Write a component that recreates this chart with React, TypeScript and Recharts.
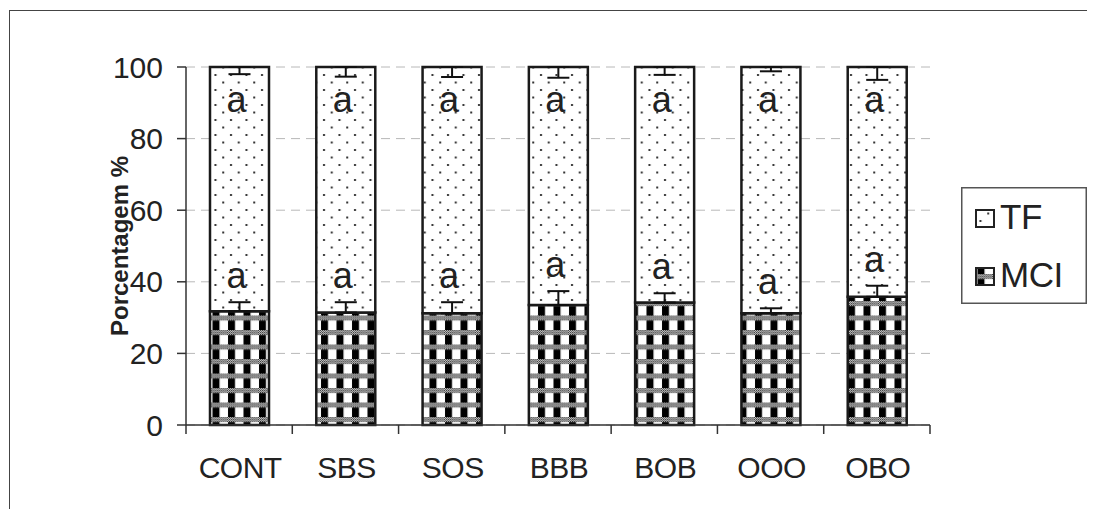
import React from "react";
import {
  BarChart,
  Bar,
  XAxis,
  YAxis,
  CartesianGrid,
  ErrorBar,
  LabelList,
  Legend,
  Label,
} from "recharts";

// treatments on the x axis
const groups = ["CONT", "SBS", "SOS", "BBB", "BOB", "OOO", "OBO"];
// share of each cell type, %
const mciValues = [31.8, 31.4, 31.2, 33.5, 34.2, 31.2, 35.8];
const tfValues = [68.2, 68.6, 68.8, 66.5, 65.8, 68.8, 64.2];
// one-sided errors: MCI goes up, TF goes down from the top
const mciErrors = [2.5, 2.9, 3.1, 3.9, 2.6, 1.4, 3.1];
const tfErrors = [2.0, 2.7, 2.8, 3.0, 2.2, 1.2, 3.6];
// significance letters
const mciLetters = ["a", "a", "a", "a", "a", "a", "a"];
const tfLetters = ["a", "a", "a", "a", "a", "a", "a"];
const yTicks = [0, 20, 40, 60, 80, 100];

const data = groups.map((group, i) => ({
  group,
  MCI: mciValues[i],
  TF: tfValues[i],
  mciErr: [0, mciErrors[i]],
  tfErr: [tfErrors[i], 0],
}));

const FONT = "'Liberation Sans', Arial, sans-serif";
const INK = "#222";

const CHART_W = 1076;
const CHART_H = 500;
const PLOT_LEFT = 176;
const PLOT_TOP = 56;
const PLOT_RIGHT = 920;
const PLOT_BOTTOM = 414;
const BAND = (PLOT_RIGHT - PLOT_LEFT) / groups.length;
const PX_PER_UNIT = (PLOT_BOTTOM - PLOT_TOP) / 100;

// excel-style ticks sit on the category borders
const GroupTick = (props: any) => {
  const { x, y, payload, index } = props;
  const half = BAND / 2;
  return (
    <g>
      <line x1={x - half} y1={y} x2={x - half} y2={y + 9} stroke="#333" strokeWidth={1.5} />
      {index === groups.length - 1 && (
        <line x1={x + half} y1={y} x2={x + half} y2={y + 9} stroke="#333" strokeWidth={1.5} />
      )}
      <text x={x + 1} y={y + 53} textAnchor="middle" fontSize={30} fill={INK} fontFamily={FONT} letterSpacing={-0.5}>
        {payload.value}
      </text>
    </g>
  );
};

const boxOf = (props: any) => props.viewBox ?? props;

const MciLetter = (props: any) => {
  const { x, y, width } = boxOf(props);
  const i = groups.indexOf(props.value);
  if (i < 0) return null;
  const capY = y - mciErrors[i] * PX_PER_UNIT;
  return (
    <text x={x + width / 2 - 3} y={capY - 14} textAnchor="middle" fontSize={36} fill={INK} fontFamily={FONT}>
      {mciLetters[i]}
    </text>
  );
};

const TfLetter = (props: any) => {
  const { x, y, width } = boxOf(props);
  const i = groups.indexOf(props.value);
  if (i < 0) return null;
  return (
    <text x={x + width / 2 - 3} y={y + 45} textAnchor="middle" fontSize={36} fill={INK} fontFamily={FONT}>
      {tfLetters[i]}
    </text>
  );
};

const legendItems = [
  { name: "TF", fill: "url(#dots)" },
  { name: "MCI", fill: "url(#checks)" },
];

const LegendBox = () => (
  <svg width={126} height={117} style={{ display: "block" }}>
    <rect x={0.75} y={0.75} width={124.5} height={115.5} fill="#fff" stroke="#555" strokeWidth={1.5} />
    {legendItems.map((item, i) => (
      <g key={item.name} transform={`translate(0, ${i * 58})`}>
        <rect x={15} y={23} width={18} height={17} fill={item.fill} stroke="#222" strokeWidth={2} />
        <text x={39} y={42} fontSize={35} fill={INK} fontFamily={FONT} letterSpacing={-0.5}>
          {item.name}
        </text>
      </g>
    ))}
  </svg>
);

const YTitle = () => (
  <text
    transform={`translate(109, ${(PLOT_TOP + PLOT_BOTTOM) / 2}) rotate(-90)`}
    textAnchor="middle"
    dominantBaseline="central"
    fontSize={24}
    fontWeight="bold"
    fill={INK}
    fontFamily={FONT}
  >
    Porcentagem %
  </text>
);

const App = () => {
  return (
    <div
      style={{
        position: "relative",
        left: 1,
        top: 2,
        width: 1086,
        height: 500,
        overflow: "hidden",
        borderLeft: "1px solid #444",
        borderTop: "1px solid #444",
        background: "#fff",
      }}
    >
      <BarChart
        width={CHART_W}
        height={CHART_H}
        data={data}
        margin={{ top: PLOT_TOP, right: CHART_W - PLOT_RIGHT, bottom: 26, left: 0 }}
      >
        <defs>
          <pattern id="dither" width={2} height={2} patternUnits="userSpaceOnUse">
            <rect width={2} height={2} fill="#fff" />
            <rect width={1} height={1} fill="#111" />
            <rect x={1} y={1} width={1} height={1} fill="#111" />
          </pattern>
          <pattern id="checks" width={15.5} height={14.5} patternUnits="userSpaceOnUse">
            <rect width={15.5} height={14.5} fill="#fff" />
            <rect width={15.5} height={5} fill="url(#dither)" />
            <rect x={1} y={5} width={7} height={9.5} fill="#000" />
          </pattern>
          <pattern id="dots" width={15.5} height={15} patternUnits="userSpaceOnUse">
            <rect width={15.5} height={15} fill="#fff" />
            <rect x={3} y={3} width={2} height={2} fill="#333" />
            <rect x={10.75} y={10.5} width={2} height={2} fill="#333" />
          </pattern>
        </defs>
        <CartesianGrid vertical={false} stroke="#b8b8b8" strokeDasharray="9 6" />
        <XAxis
          dataKey="group"
          height={60}
          axisLine={{ stroke: "#333", strokeWidth: 1.5 }}
          tickLine={false}
          tickSize={0}
          tickMargin={0}
          tick={<GroupTick />}
          interval={0}
        />
        <YAxis
          width={PLOT_LEFT}
          domain={[0, 100]}
          ticks={yTicks}
          interval={0}
          axisLine={{ stroke: "#333", strokeWidth: 1.5 }}
          tickLine={{ stroke: "#333", strokeWidth: 1.5 }}
          tickSize={9}
          tickMargin={14}
          tick={{ fontSize: 30, fill: INK, fontFamily: FONT }}
        >
          <Label content={<YTitle />} />
        </YAxis>
        <Legend
          layout="vertical"
          align="center"
          verticalAlign="middle"
          content={<LegendBox />}
          wrapperStyle={{ left: 951, top: 176, width: 126, height: 117 }}
        />
        <Bar
          dataKey="MCI"
          stackId="cells"
          barSize={59}
          fill="url(#checks)"
          stroke="#1a1a1a"
          strokeWidth={2.5}
          isAnimationActive={false}
        >
          <ErrorBar dataKey="mciErr" width={11} strokeWidth={2} stroke="#111" />
          <LabelList dataKey="group" content={<MciLetter />} />
        </Bar>
        <Bar
          dataKey="TF"
          stackId="cells"
          barSize={59}
          fill="url(#dots)"
          stroke="#1a1a1a"
          strokeWidth={2.5}
          isAnimationActive={false}
        >
          <ErrorBar dataKey="tfErr" width={11} strokeWidth={2} stroke="#111" />
          <LabelList dataKey="group" content={<TfLetter />} />
        </Bar>
      </BarChart>
    </div>
  );
};

export default App;
